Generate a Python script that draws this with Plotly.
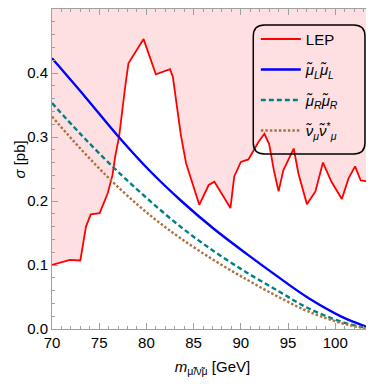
import plotly.graph_objects as go

# LEP limit (upper boundary of allowed region)
lep_x = [70, 71.9, 73.0, 73.6, 74.1, 75.05, 75.9, 76.4, 76.7, 77.1, 77.8, 78.1, 79.7, 81.0, 82.5, 82.8,
         83.65, 84.2, 85.6, 86.6, 87.2, 88.9, 89.3, 90.0, 90.8, 91.9, 92.5, 93.0, 93.5, 94.0, 94.5, 95.6,
         96.1, 97.0, 97.9, 98.7, 99.6, 100.7, 101.4, 102.1, 102.7, 104]
lep_y = [0.100, 0.108, 0.107, 0.160, 0.179, 0.181, 0.212, 0.240, 0.270, 0.300, 0.384, 0.415, 0.453, 0.398,
         0.406, 0.394, 0.303, 0.259, 0.194, 0.225, 0.230, 0.189, 0.238, 0.261, 0.265, 0.293, 0.305, 0.289,
         0.248, 0.215, 0.248, 0.282, 0.243, 0.195, 0.215, 0.260, 0.230, 0.203, 0.235, 0.254, 0.232, 0.230]

# Cross sections
muL_x = [70, 73.5, 77.07, 80.3, 83.7, 87.1, 90.65, 93.8, 97.2, 100.7, 102.5, 104]
muL_y = [0.423, 0.363, 0.300, 0.248, 0.200, 0.157, 0.117, 0.083, 0.048, 0.019, 0.008, 0.0]

muR_x = [70, 73, 76.4, 80, 83.6, 87.1, 90.65, 94, 97.2, 100.7, 102.5, 104]
muR_y = [0.353, 0.305, 0.254, 0.205, 0.160, 0.122, 0.088, 0.059, 0.032, 0.011, 0.004, 0.0]

nu_x = [70, 73, 76, 79, 81.3, 83.6, 87.1, 90.65, 94, 97.2, 100.7, 102.5, 104]
nu_y = [0.332, 0.282, 0.236, 0.195, 0.167, 0.142, 0.108, 0.077, 0.050, 0.027, 0.009, 0.003, 0.0]

x_range = [70, 104]
y_range = [0, 0.5]

fig = go.Figure()
fig.add_trace(go.Scatter(x=lep_x, y=[y_range[1]] * len(lep_x), mode="lines", legendgroup="z",
                         line=dict(width=0), showlegend=False, hoverinfo="skip"))
fig.add_trace(go.Scatter(x=lep_x, y=lep_y, mode="lines", showlegend=False, hoverinfo="skip",
                         legendgroup="z",
                         line=dict(width=0), fill="tonexty", fillcolor="rgba(255,0,20,0.12)"))
fig.add_trace(go.Scatter(x=lep_x, y=lep_y, mode="lines", name="LEP", legendgroup="a",
                         line=dict(color="#ff0000", width=1.8)))
fig.add_trace(go.Scatter(x=muL_x, y=muL_y, mode="lines", line_shape="spline", legendgroup="b",
                         name="<i>μ̃</i><sub><i>L</i></sub><i>μ̃</i><sub><i>L</i></sub>",
                         line=dict(color="#0000ff", width=2.4)))
fig.add_trace(go.Scatter(x=muR_x, y=muR_y, mode="lines", line_shape="spline", legendgroup="c",
                         name="<i>μ̃</i><sub><i>R</i></sub><i>μ̃</i><sub><i>R</i></sub>",
                         line=dict(color="#008080", width=2.4, dash="5px,3px")))
fig.add_trace(go.Scatter(x=nu_x, y=nu_y, mode="lines", line_shape="spline", legendgroup="d",
                         name="<i>ν̃</i><sub><i>μ</i></sub><i>ν̃</i><sup>*</sup><sub><i>μ</i></sub>",
                         line=dict(color="#ac723c", width=2.4, dash="2.5px,2px")))

axis_common = dict(showline=True, linecolor="#a0a0a0", linewidth=1, mirror="ticks",
                   ticks="inside", ticklen=6, tickcolor="#a0a0a0", showgrid=False, zeroline=False,
                   tickfont=dict(size=15, color="black", family="Liberation Sans"))
fig.update_xaxes(range=x_range, autorange=False, tickvals=[70, 75, 80, 85, 90, 95, 100],
                 minor=dict(dtick=1, ticks="inside", ticklen=3, tickcolor="#a0a0a0"),
                 title=dict(text="<i>m</i><sub>μ̃/ν̃μ</sub> [GeV]", font=dict(size=15, family="Liberation Sans"),
                            standoff=11),
                 **axis_common)
fig.update_yaxes(range=y_range, autorange=False, tickvals=[0, 0.1, 0.2, 0.3, 0.4, 0.5], tickformat=".1f",
                 minor=dict(dtick=0.02, ticks="inside", ticklen=3, tickcolor="#a0a0a0"),
                 **axis_common)

fig.add_annotation(text="<i>σ</i> [pb]", xref="paper", yref="paper", x=-0.135, y=0.53,
                   textangle=-90, showarrow=False, xanchor="left", yanchor="middle",
                   font=dict(size=15, family="Liberation Sans"))

# rounded legend frame
x0, x1, y0, y1, r = 0.627, 0.975, 0.547, 0.95, 0.035
ry = r * 321 / 320
path = (f"M {x0 + r} {y1} L {x1 - r} {y1} Q {x1} {y1} {x1} {y1 - ry} L {x1} {y0 + ry} "
        f"Q {x1} {y0} {x1 - r} {y0} L {x0 + r} {y0} Q {x0} {y0} {x0} {y0 + ry} L {x0} {y1 - ry} "
        f"Q {x0} {y1} {x0 + r} {y1} Z")
fig.add_shape(type="path", path=path, xref="paper", yref="paper",
              line=dict(color="black", width=1.5))

# page body has an 8px margin, so the figure is sized to fit the 374x384 window
fig.update_layout(
    width=366, height=376,
    margin=dict(l=44, r=1, t=1, b=55, autoexpand=False),
    paper_bgcolor="white", plot_bgcolor="white",
    font=dict(family="Liberation Sans", size=15, color="black"),
    legend=dict(x=0.635, y=0.957, xanchor="left", yanchor="top", bgcolor="rgba(0,0,0,0)",
                borderwidth=0, font=dict(size=15), traceorder="grouped", tracegroupgap=8,
                itemwidth=40),
    showlegend=True,
)

fig.write_html("out.html")
